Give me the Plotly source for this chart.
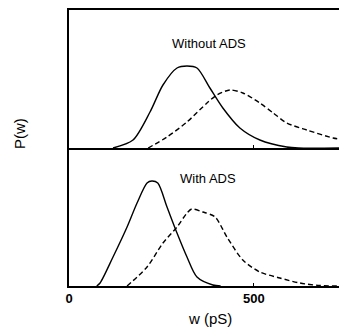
import plotly.graph_objects as go

# Without ADS (top panel)
w_top_solid = [119, 173, 219, 254, 292, 319, 346, 381, 416, 462, 516, 589, 620, 730]
p_top_solid = [0, 8, 36, 63, 80, 82, 80, 60, 40, 20, 8, 1, 0, 0]
w_top_dash = [214, 265, 319, 373, 400, 435, 470, 516, 552, 589, 643, 714, 730]
p_top_dash = [0, 11, 26, 45, 53, 58, 55, 45, 35, 25, 18, 10, 9]

# With ADS (bottom panel)
w_bot_solid = [75, 84, 119, 157, 184, 211, 224, 240, 265, 292, 319, 346, 389, 410]
p_bot_solid = [0, 3, 29, 59, 83, 103, 105, 103, 79, 53, 29, 9, 1, 0]
w_bot_dash = [157, 211, 254, 292, 319, 332, 362, 395, 427, 470, 516, 570, 624, 678, 730]
p_bot_dash = [0, 19, 43, 59, 73, 77, 74, 69, 49, 26, 14, 8, 3, 0.5, 0]

x_ticks = [0, 500]
x_tick_text = ["0", "500"]

fig = go.Figure()
lw = 1.4
sm = 0.8
fig.add_trace(go.Scatter(x=w_top_solid, y=p_top_solid, mode="lines", xaxis="x2", yaxis="y2",
                         line=dict(color="black", width=lw, shape="spline", smoothing=sm)))
fig.add_trace(go.Scatter(x=w_top_dash, y=p_top_dash, mode="lines", xaxis="x2", yaxis="y2",
                         line=dict(color="black", width=lw, dash="5px,3px", shape="spline", smoothing=sm)))
fig.add_trace(go.Scatter(x=w_bot_solid, y=p_bot_solid, mode="lines",
                         line=dict(color="black", width=lw, shape="spline", smoothing=sm)))
fig.add_trace(go.Scatter(x=w_bot_dash, y=p_bot_dash, mode="lines",
                         line=dict(color="black", width=lw, dash="5px,3px", shape="spline", smoothing=sm)))

font_main = dict(family="Liberation Sans, Arial, sans-serif", color="black")

fig.update_layout(
    width=339, height=328,
    margin=dict(l=69, r=0, t=10, b=42),
    paper_bgcolor="white", plot_bgcolor="white",
    showlegend=False,
    font=dict(**font_main, size=12),
    xaxis=dict(domain=[0, 1], range=[0, 730], showgrid=False, zeroline=False,
               showline=True, linecolor="black", linewidth=1.5,
               tickvals=x_ticks, ticktext=x_tick_text, ticks="inside", ticklen=3,
               tickcolor="black", tickfont=dict(size=13, family="Liberation Sans, Arial", weight="bold"),
               anchor="y"),
    yaxis=dict(domain=[0, 0.5], range=[0, 138], showgrid=False, zeroline=False,
               showline=True, linecolor="black", linewidth=1.5, showticklabels=False,
               ticks="", anchor="x"),
    xaxis2=dict(domain=[0, 1], range=[0, 730], showgrid=False, zeroline=False,
                showline=True, linecolor="black", linewidth=1.5, mirror=True,
                tickvals=x_ticks, ticks="inside", ticklen=3, tickcolor="black",
                showticklabels=False, anchor="y2", matches="x"),
    yaxis2=dict(domain=[0.5, 1], range=[0, 138], showgrid=False, zeroline=False,
                showline=True, linecolor="black", linewidth=1.5, showticklabels=False,
                ticks="", anchor="x2"),
    annotations=[
        dict(text="Without ADS", x=378, y=105, xref="x2", yref="y2", showarrow=False,
             font=dict(size=13), xanchor="center", yanchor="middle"),
        dict(text="With ADS", x=376, y=108, xref="x", yref="y", showarrow=False,
             font=dict(size=13), xanchor="center", yanchor="middle"),
        dict(text="w (pS)", x=381, y=-0.116, xref="x", yref="paper", showarrow=False,
             font=dict(size=15), xanchor="center", yanchor="middle"),
        dict(text="P(w)", x=-0.181, y=0.551, xref="paper", yref="paper", showarrow=False,
             font=dict(size=15), textangle=-90, xanchor="center", yanchor="middle"),
    ],
)

fig.write_html("out.html")
